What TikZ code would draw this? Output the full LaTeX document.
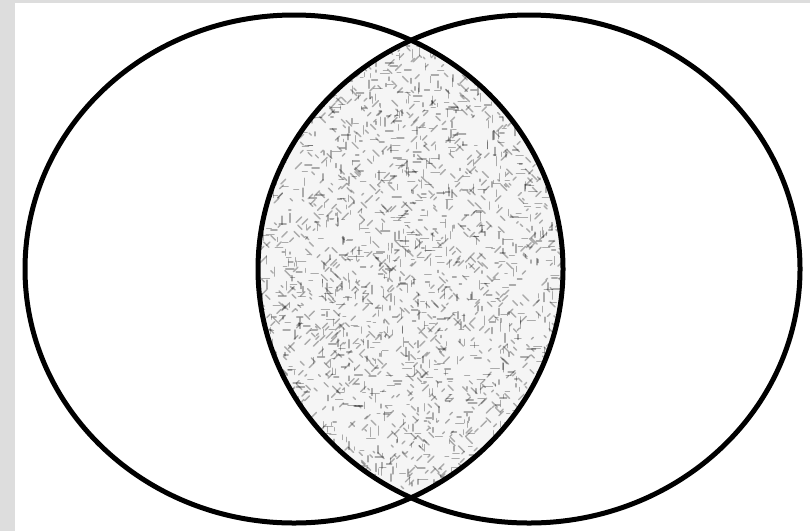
\documentclass[tikz,border=0pt]{standalone}
\usetikzlibrary{calc}
\definecolor{bggray}{HTML}{DDDDDD}
\tikzset{
  vennline/.style={line width=5pt, black},
  speck/.style={line width=1.4pt, black, opacity=0.3, line cap=round}
}
\begin{document}
\begin{tikzpicture}[x=1pt,y=-1pt]
  \fill[bggray] (0,0) rectangle (810,531);
  \fill[white] (15,3) rectangle (810,531);
  \useasboundingbox (0,0) rectangle (810,531);
  \coordinate (cl) at (294,269);
  \coordinate (cr) at (529,269);
  \begin{scope}
    \clip (cl) ellipse [x radius=269, y radius=254];
    \clip (cr) ellipse [x radius=271, y radius=254];
    \fill[gray!8] (250,30) rectangle (570,505);
    \pgfmathsetseed{7}
    \foreach \i in {1,...,2600} {
      \pgfmathsetmacro\px{255+310*rnd}
      \pgfmathsetmacro\py{38+460*rnd}
      \pgfmathsetmacro\len{2+7*rnd}
      \pgfmathsetmacro\ang{45*int(4*rnd)}
      \draw[speck] (\px,\py) -- ++(\ang:\len);
    }
  \end{scope}
  \draw[vennline] (cl) ellipse [x radius=269, y radius=254];
  \draw[vennline] (cr) ellipse [x radius=271, y radius=254];
\end{tikzpicture}
\end{document}
